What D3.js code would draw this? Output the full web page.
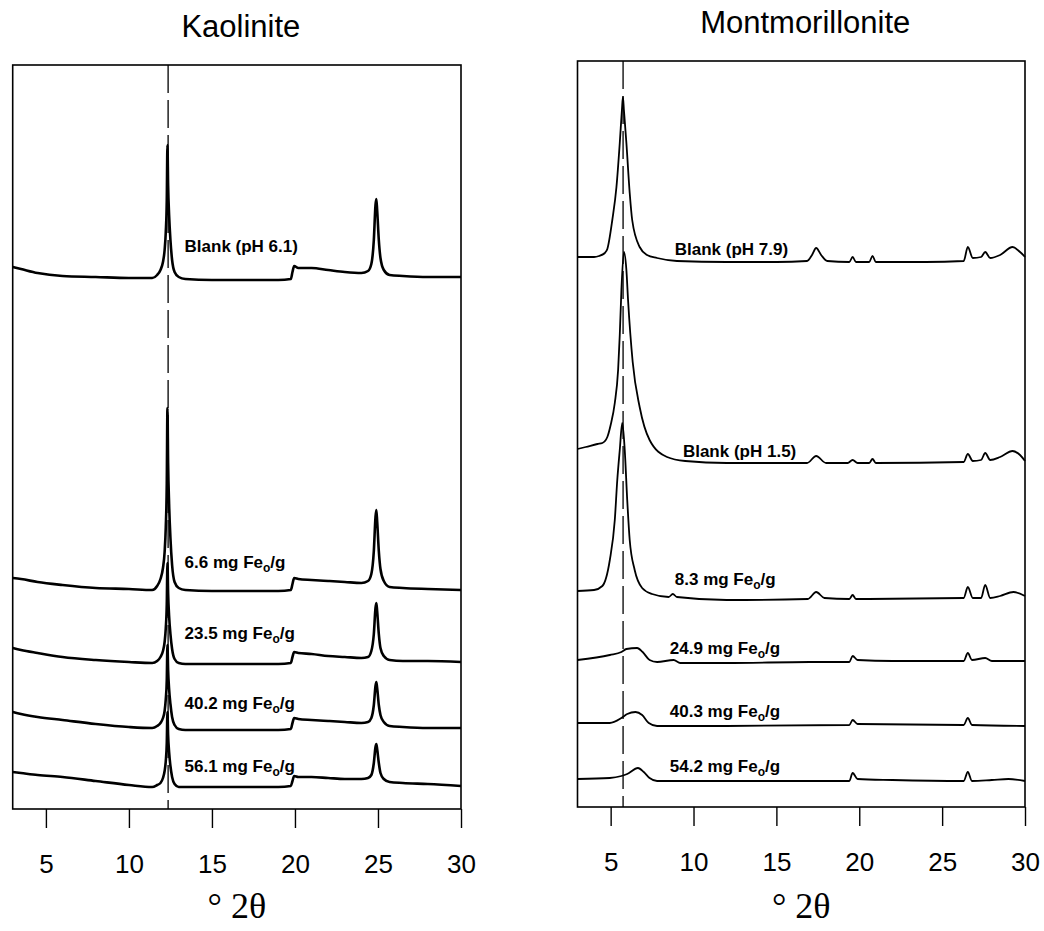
<!DOCTYPE html>
<html>
<head>
<meta charset="utf-8">
<script src="https://cdn.jsdelivr.net/npm/d3@7"></script>
<style>
  body { margin: 0; background: #fff; }
  svg { display: block; font-family: 'Liberation Sans', Arial, sans-serif; }
</style>
</head>
<body>
<svg id="chart" width="1044" height="931"></svg>
<script>
'use strict';

// x axis (degrees 2-theta), shared by both panels
const thetaDomain = [3, 30];
const thetaTicks = [5, 10, 15, 20, 25, 30];

// Kaolinite: every scan uses the same 2-theta grid (intensity in a.u.)
const kaoTheta = [3.0, 3.5, 4.5, 6, 8, 10, 11.4, 11.7, 11.9, 12.05, 12.15, 12.22, 12.28, 12.32, 12.36, 12.42,
    12.5, 12.6, 12.75, 13.0, 13.4, 15, 17, 19.0, 19.75, 19.85, 19.95, 20.2, 21, 22, 23, 24.0, 24.4, 24.6,
    24.75, 24.85, 24.9, 24.95, 25.05, 25.15, 25.35, 25.7, 26.5, 28, 30];
const kaoBlank61 = [542, 540, 536, 533, 532, 531, 531, 534, 539, 547, 559, 577, 609, 664, 624, 594,
    569, 549, 537, 532, 530, 529, 529, 529, 530, 537, 543, 541, 541, 539, 537, 536, 538, 545,
    569, 604, 610, 599, 569, 551, 539, 534, 533, 532, 532];
const kao66 = [231, 230, 227, 224, 221, 220, 219, 223, 230, 241, 257, 282, 326, 401, 346, 305,
    271, 244, 227, 221, 219, 218, 218, 218, 219, 225, 231, 230, 229, 228, 227, 226, 228, 235,
    258, 292, 299, 288, 258, 240, 228, 222, 221, 220, 219];
const kao235 = [161, 159, 156, 152, 149, 147, 146, 148, 152, 158, 167, 181, 205, 246, 216, 193,
    175, 160, 150, 146, 145, 145, 145, 145, 146, 152, 157, 156, 155, 153, 152, 151, 152, 158,
    175, 201, 206, 198, 175, 161, 153, 149, 148, 148, 147];
const kao402 = [97, 95, 92, 89, 85, 82, 81, 83, 86, 91, 98, 110, 129, 164, 139, 120,
    105, 92, 84, 80, 79, 79, 79, 79, 80, 86, 91, 90, 89, 88, 87, 86, 87, 91,
    104, 123, 127, 121, 104, 94, 87, 83, 82, 81, 81];
const kao561 = [37, 36, 34, 32, 28, 24, 22, 24, 26, 31, 38, 48, 66, 97, 74, 57,
    43, 32, 25, 22, 22, 22, 22, 22, 23, 28, 33, 32, 32, 31, 30, 30, 31, 34,
    46, 62, 65, 60, 46, 36, 30, 27, 26, 25, 23];
const kaoLabels = ['Blank (pH 6.1)', '6.6 mg Fe|o|/g', '23.5 mg Fe|o|/g', '40.2 mg Fe|o|/g', '56.1 mg Fe|o|/g'];

// Montmorillonite: [2-theta, intensity a.u.] per scan
const mntBlank79 = [[3.0, 550], [4.0, 550], [4.3, 551], [4.65, 554], [4.8, 558], [5.1, 587], [5.35, 620],
    [5.55, 664], [5.68, 697], [5.74, 710], [5.8, 697], [5.95, 664], [6.15, 614], [6.3, 587], [6.75, 560],
    [7.2, 552], [7.8, 549], [9, 546], [12, 545], [15, 545], [16.85, 546], [17.15, 552], [17.4, 559],
    [17.7, 552], [18.07, 546], [19.4, 545], [19.6, 550], [19.8, 545], [20.6, 545], [20.8, 551], [21.0, 545],
    [24, 545], [26.3, 546], [26.55, 560], [26.85, 549], [27.35, 550], [27.6, 555], [27.9, 549], [28.5, 552],
    [29.25, 560], [29.7, 555], [30, 550]];
const mntBlank15 = [[3.0, 358], [3.5, 360], [4.2, 363], [4.5, 364], [4.8, 370], [5.0, 382], [5.25, 404],
    [5.45, 437], [5.55, 472], [5.65, 517], [5.8, 555], [5.95, 537], [6.05, 507], [6.33, 445], [6.75, 400],
    [7.35, 367], [8.4, 350], [9.5, 346], [12, 344], [16.85, 344], [17.4, 351], [18.0, 344], [19.3, 344],
    [19.6, 347], [19.9, 344], [20.6, 344], [20.8, 348], [21.0, 344], [26.3, 345], [26.55, 353], [26.85, 346],
    [27.35, 347], [27.6, 354], [27.9, 347], [28.5, 350], [29.25, 356], [29.7, 352], [30, 346]];
const mnt83 = [[3.0, 216], [4.0, 217], [4.5, 221], [4.95, 247], [5.25, 287], [5.4, 327], [5.55, 357],
    [5.7, 384], [5.85, 357], [6.0, 307], [6.15, 267], [6.45, 237], [6.9, 219], [7.5, 213], [8.5, 210],
    [8.75, 213], [9.0, 210], [12, 207], [16.9, 208], [17.4, 215], [17.9, 209], [19.4, 208], [19.6, 212],
    [19.8, 208], [26.3, 209], [26.55, 220], [26.85, 209], [27.35, 209], [27.6, 222], [27.9, 209],
    [28.5, 211], [29.3, 215], [30, 211]];
const mnt249 = [[3.0, 147], [4.95, 152], [5.65, 155], [5.95, 158], [6.6, 159], [6.93, 155], [7.35, 147],
    [7.8, 145], [8.8, 147], [9.2, 144], [12, 144], [17, 145], [19.4, 145], [19.6, 151], [19.9, 147],
    [22, 146], [26.3, 146], [26.55, 154], [26.8, 147], [27.6, 149], [28, 146], [30, 146]];
const mnt403 = [[3.0, 84], [4.95, 84], [5.65, 89], [6.0, 93], [6.5, 95], [6.9, 92], [7.3, 84], [7.8, 81],
    [12, 81], [19.4, 82], [19.6, 87], [19.9, 83], [26.3, 82], [26.55, 89], [26.8, 82], [30, 81]];
const mnt542 = [[3.0, 28], [4.95, 29], [5.65, 31], [6.0, 33], [6.65, 39], [7.0, 35], [7.35, 29], [7.8, 26],
    [12, 26], [19.4, 26], [19.6, 34], [19.9, 28], [22, 27], [26.3, 26], [26.55, 35], [26.8, 26], [28, 27],
    [29, 28], [30, 26]];
const mntLabels = ['Blank (pH 7.9)', 'Blank (pH 1.5)', '8.3 mg Fe|o|/g', '24.9 mg Fe|o|/g',
    '40.3 mg Fe|o|/g', '54.2 mg Fe|o|/g'];

const svg = d3.select('#chart');

drawPanel({
    title: 'Kaolinite', titleY: 37,
    left: 12.7, right: 461, top: 65, bottom: 809, yMax: 744,
    series: [kaoBlank61, kao66, kao235, kao402, kao561].map(vals => vals.map((v, i) => [kaoTheta[i], v])),
    labels: kaoLabels,
    labelTheta: [13.35, 13.35, 13.35, 13.35, 13.35],
    labelLevel: [557, 241, 170, 100, 37],
    refTheta: 12.36,
    lineWidth: 2.6
});

drawPanel({
    title: 'Montmorillonite', titleY: 33,
    left: 577.5, right: 1025, top: 61, bottom: 807, yMax: 746,
    series: [mntBlank79, mntBlank15, mnt83, mnt249, mnt403, mnt542],
    labels: mntLabels,
    labelTheta: [8.87, 9.36, 8.87, 8.57, 8.57, 8.57],
    labelLevel: [552, 350, 222, 153, 90, 35],
    refTheta: 5.75,
    lineWidth: 1.8
});

function drawPanel(p) {
    const x = d3.scaleLinear().domain(thetaDomain).range([p.left, p.right]);
    const y = d3.scaleLinear().domain([0, p.yMax]).range([p.bottom, p.top]);
    const g = svg.append('g');

    g.append('text')
        .attr('x', (p.left + p.right) / 2 + 4)
        .attr('y', p.titleY)
        .attr('text-anchor', 'middle')
        .attr('font-size', 31)
        .text(p.title);

    g.append('rect')
        .attr('x', p.left)
        .attr('y', p.top)
        .attr('width', p.right - p.left)
        .attr('height', p.bottom - p.top)
        .attr('fill', 'none')
        .attr('stroke', 'black')
        .attr('stroke-width', 1.6);

    const ax = g.append('g')
        .attr('transform', `translate(0,${p.bottom})`)
        .call(d3.axisBottom(x).tickValues(thetaTicks).tickSize(19).tickPadding(27).tickFormat(d3.format('d')));
    ax.select('.domain').remove();
    ax.selectAll('.tick line').attr('stroke', 'black').attr('stroke-width', 1.4);
    ax.selectAll('.tick text')
        .attr('fill', 'black')
        .attr('font-size', 26)
        .attr('font-family', "'Liberation Sans', Arial, sans-serif");

    g.append('text')
        .attr('x', (p.left + p.right) / 2)
        .attr('y', 918)
        .attr('text-anchor', 'middle')
        .attr('font-family', "'Liberation Serif', 'Times New Roman', serif")
        .attr('font-size', 36)
        .text('\u00b0 2\u03b8');

    // reference position of the basal reflection
    g.append('line')
        .attr('x1', x(p.refTheta))
        .attr('x2', x(p.refTheta))
        .attr('y1', p.top)
        .attr('y2', p.bottom)
        .attr('stroke', 'black')
        .attr('stroke-width', 1.3)
        .attr('stroke-dasharray', '28,7');

    const line = d3.line()
        .x(d => x(d[0]))
        .y(d => y(d[1]))
        .curve(d3.curveMonotoneX);

    g.append('g')
        .attr('fill', 'none')
        .attr('stroke', 'black')
        .attr('stroke-width', p.lineWidth)
        .attr('stroke-linejoin', 'round')
        .selectAll('path')
        .data(p.series)
        .join('path')
        .attr('d', line);

    const lab = g.append('g')
        .attr('font-size', 17)
        .attr('font-weight', 'bold')
        .selectAll('text')
        .data(p.labels)
        .join('text')
        .attr('x', (d, i) => x(p.labelTheta[i]))
        .attr('y', (d, i) => y(p.labelLevel[i]));

    // "|o|" marks the subscript in Fe_o
    lab.each(function (d) {
        const parts = d.split('|');
        const t = d3.select(this);
        t.append('tspan').text(parts[0]);
        if (parts.length > 1) {
            t.append('tspan').attr('font-size', 12).attr('dy', 4).text(parts[1]);
            t.append('tspan').attr('dy', -4).text(parts[2]);
        }
    });
}
</script>
</body>
</html>
